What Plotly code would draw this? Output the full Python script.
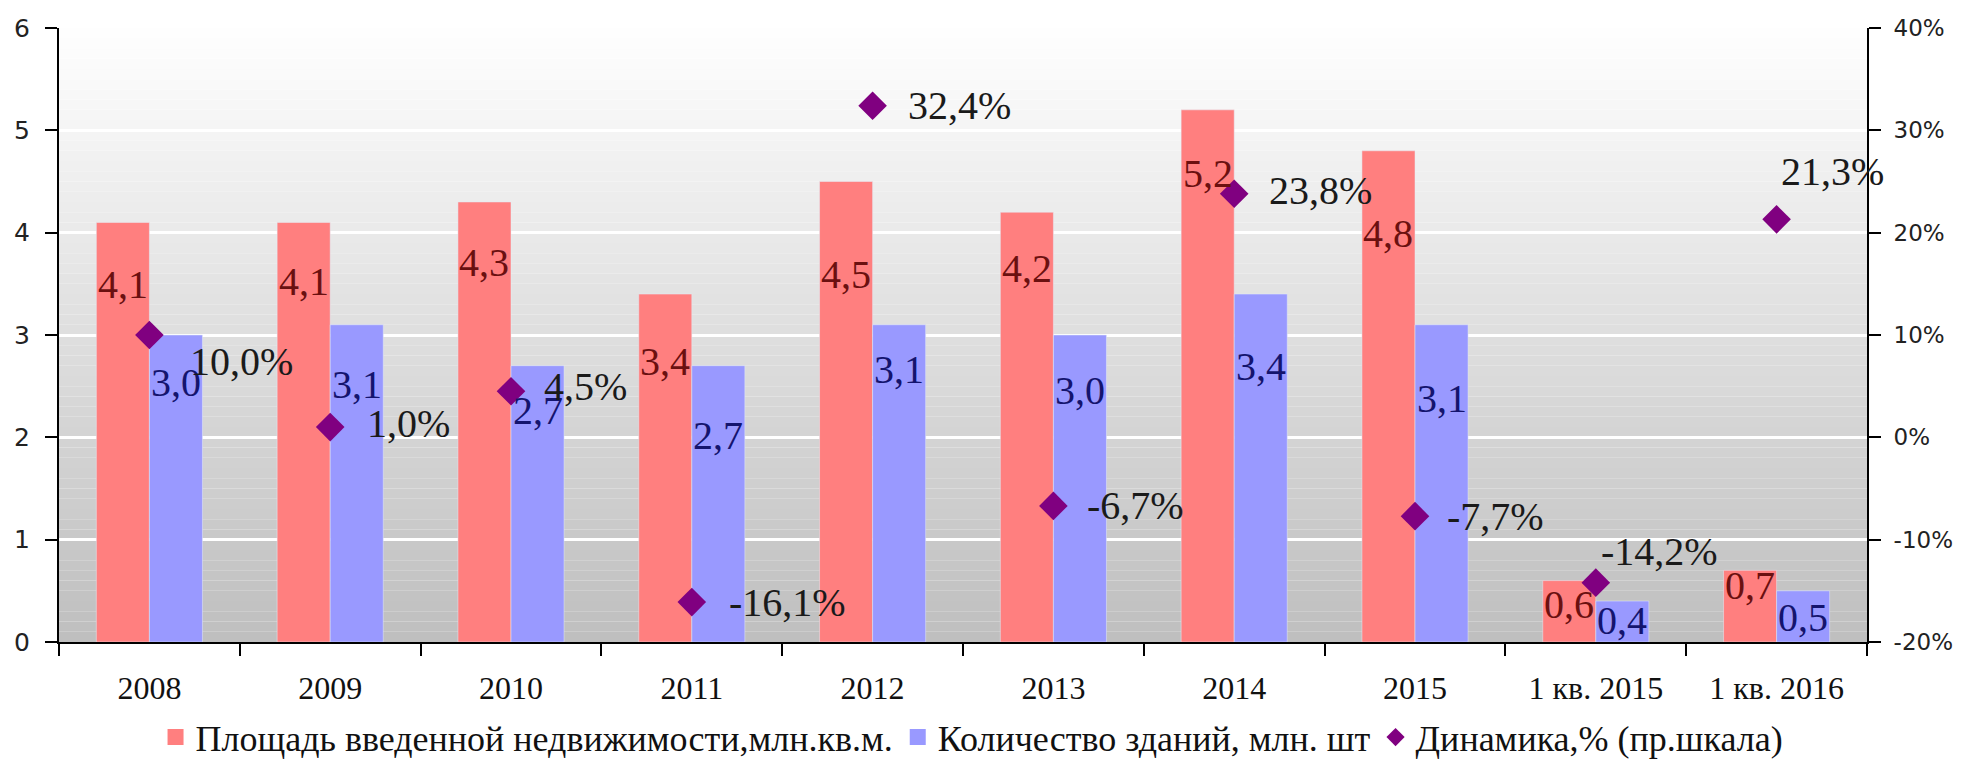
import plotly.graph_objects as go

# ---- data ----
categories = ["2008", "2009", "2010", "2011", "2012", "2013", "2014", "2015",
              "1 кв. 2015", "1 кв. 2016"]
area = [4.1, 4.1, 4.3, 3.4, 4.5, 4.2, 5.2, 4.8, 0.6, 0.7]
buildings = [3.0, 3.1, 2.7, 2.7, 3.1, 3.0, 3.4, 3.1, 0.4, 0.5]
dynamics = [10.0, 1.0, 4.5, -16.1, 32.4, -6.7, 23.8, -7.7, -14.2, 21.3]
pct_ticks = [-20, -10, 0, 10, 20, 30, 40]
pct_tick_labels = ["-20%", "-10%", "0%", "10%", "20%", "30%", "40%"]

name_area = "Площадь введенной недвижимости,млн.кв.м."
name_build = "Количество зданий, млн. шт"
name_dyn = "Динамика,% (пр.шкала)"

# ---- style ----
RED = "#FF7F7F"
BLUE = "#9999FF"
PURPLE = "#800080"
SERIF = "Liberation Serif, DejaVu Serif, serif"
SANS = "DejaVu Sans, sans-serif"
BARGAP = 0.413
# label offsets (px) below bar tops, and marker-label offsets
area_label_drop = [62, 59, 61, 67, 93, 56, 64, 83, 24, 15]
build_label_drop = [47, 60, 45, 70, 45, 55, 72, 74, 19, 27]
dyn_label_dx = [39, 35, 31, 35, 33, 32, 33, 30, 3, 2]
dyn_label_dy = [-26, 4, 5, 0, 0, 0, 3, 0, 31, 48]


def fmt(v, suffix=""):
    return f"{v:.1f}".replace(".", ",") + suffix


fig = go.Figure()
fig.add_trace(go.Bar(x=categories, y=area, marker_color=RED, name=name_area,
                     showlegend=False, hoverinfo="skip"))
fig.add_trace(go.Bar(x=categories, y=buildings, marker_color=BLUE, name=name_build,
                     showlegend=False, hoverinfo="skip"))
fig.add_trace(go.Scatter(x=categories, y=dynamics, yaxis="y2", mode="markers",
                         marker=dict(symbol="diamond", size=22, color=PURPLE),
                         name=name_dyn, showlegend=False, hoverinfo="skip"))

# legend-only entries (larger symbols)
fig.add_trace(go.Scatter(x=[None], y=[None], mode="markers", name=name_area,
                         marker=dict(symbol="square", size=16, color=RED)))
fig.add_trace(go.Scatter(x=[None], y=[None], mode="markers", name=name_build,
                         marker=dict(symbol="square", size=16, color=BLUE)))
fig.add_trace(go.Scatter(x=[None], y=[None], mode="markers", name=name_dyn,
                         marker=dict(symbol="diamond", size=14, color=PURPLE)))

half = (1 - BARGAP) / 4
annotations = []
for i, v in enumerate(area):
    annotations.append(dict(x=i - half, y=v, xref="x", yref="y", text=fmt(v),
                            showarrow=False, yshift=-area_label_drop[i],
                            font=dict(family=SERIF, size=40, color="#6b1010")))
for i, v in enumerate(buildings):
    annotations.append(dict(x=i + half, y=v, xref="x", yref="y", text=fmt(v),
                            showarrow=False, yshift=-build_label_drop[i],
                            font=dict(family=SERIF, size=40, color="#14146e")))
for i, v in enumerate(dynamics):
    annotations.append(dict(x=i, y=v, xref="x", yref="y2", text=fmt(v, "%"),
                            showarrow=False, xanchor="left",
                            xshift=dyn_label_dx[i], yshift=dyn_label_dy[i],
                            font=dict(family=SERIF, size=40, color="#1a1a1a")))

# vertical gradient background (white at top -> grey at bottom)
shapes = []
N = 60
for k in range(N):
    y0 = 6 * k / N
    y1 = 6 * (k + 1) / N
    mid = (y0 + y1) / 2
    c = int(round(190 + (255 - 190) * mid / 6))
    shapes.append(dict(type="rect", xref="paper", yref="y", x0=0, x1=1,
                       y0=y0, y1=y1, fillcolor=f"rgb({c},{c},{c})",
                       line=dict(width=0), layer="below"))

# page body has an 8px margin -> figure is 8px smaller and offsets compensated
fig.update_layout(
    width=1959, height=753,
    margin=dict(l=51, r=100, t=20, b=119, autoexpand=False),
    paper_bgcolor="white", plot_bgcolor="white",
    barmode="group", bargap=BARGAP, bargroupgap=0,
    shapes=shapes, annotations=annotations,
    xaxis=dict(type="category", showline=True, linecolor="black", linewidth=2,
               ticks="outside", tickson="boundaries", ticklen=12, tickwidth=2,
               tickcolor="black", ticklabelstandoff=17,
               tickfont=dict(family=SERIF, size=32, color="#111"),
               showgrid=False, range=[-0.5, 9.5]),
    yaxis=dict(range=[0, 6], dtick=1, showline=True, linecolor="black", linewidth=2,
               ticks="outside", ticklen=12, tickwidth=2, tickcolor="black",
               showgrid=True, gridcolor="white", gridwidth=3, zeroline=False,
               ticklabelstandoff=10,
               tickfont=dict(family=SANS, size=25, color="#222")),
    yaxis2=dict(range=[-20, 40], overlaying="y", side="right",
                tickvals=pct_ticks, ticktext=pct_tick_labels,
                showline=True, linecolor="black", linewidth=2,
                ticks="outside", ticklen=12, tickwidth=2, tickcolor="black",
                showgrid=False, zeroline=False, ticklabelstandoff=8,
                tickfont=dict(family=SANS, size=23, color="#222")),
    legend=dict(orientation="h", x=0.505, xanchor="center", y=-0.155,
                yanchor="middle", itemwidth=30, bgcolor="rgba(0,0,0,0)",
                font=dict(family=SERIF, size=36, color="#111")),
    showlegend=True,
)

fig.write_html("out.html")
